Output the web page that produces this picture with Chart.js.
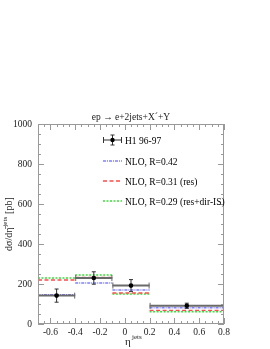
<!DOCTYPE html>
<html>
<head>
<meta charset="utf-8">
<script src="https://cdn.jsdelivr.net/npm/chart.js@4/dist/chart.umd.min.js"></script>
<style>
  html, body { margin: 0; padding: 0; background: #fff; }
  #wrap { width: 270px; height: 349px; }
</style>
</head>
<body>
<div id="wrap"><canvas id="chart" width="270" height="349"></canvas></div>
<script>
// Bins in eta^jets and cross sections (pb)
const binEdges = [-0.7, -0.4, -0.1, 0.2, 0.8]
const binCenters = [-0.55, -0.25, 0.05, 0.5]
const h1Values = [142, 230, 192, 91]
const h1Errors = [33, 31, 30, 13]
const nloR042 = [146, 205, 170, 81]
const nloR031 = [220, 233, 155, 68]
const nloR029 = [230, 245, 150, 61]

const xTicks = [-0.6, -0.4, -0.2, 0, 0.2, 0.4, 0.6, 0.8]
const yTicks = [0, 200, 400, 600, 800, 1000]

const serif = "'Liberation Serif', 'DejaVu Serif', serif"

// step histogram points, with gaps between bins
function stepPoints(values) {
  const pts = []
  values.forEach((v, i) => {
    if (i > 0) pts.push({ x: binEdges[i], y: null })
    pts.push({ x: binEdges[i], y: v })
    pts.push({ x: binEdges[i + 1], y: v })
  })
  return pts
}

const series = [
  { label: "NLO, R=0.42", data: nloR042, color: "#8080ff", dash: [3, 1, 1, 1] },
  { label: "NLO, R=0.31 (res)", data: nloR031, color: "#ff4a4a", dash: [4, 2.5] },
  { label: "NLO, R=0.29 (res+dir-IS)", data: nloR029, color: "#3cdc3c", dash: [2, 1.5] },
]

// H1 data: x error bars (bin width) + y error bars
const dataMarks = {
  id: "dataMarks",
  afterDatasetsDraw(chart) {
    const { ctx, scales } = chart
    const x = scales.x, y = scales.y
    ctx.save()
    h1Values.forEach((v, i) => {
      const x0 = x.getPixelForValue(binEdges[i])
      const x1 = x.getPixelForValue(binEdges[i + 1])
      const xc = x.getPixelForValue(binCenters[i])
      const yc = y.getPixelForValue(v)
      const yl = y.getPixelForValue(v - h1Errors[i])
      const yh = y.getPixelForValue(v + h1Errors[i])
      ctx.strokeStyle = "#6a6a6a"
      ctx.lineWidth = 2
      ctx.beginPath()
      ctx.moveTo(x0, yc); ctx.lineTo(x1, yc)
      ctx.stroke()
      ctx.lineWidth = 1
      ctx.beginPath()
      ctx.moveTo(x0 + 0.5, yc - 3); ctx.lineTo(x0 + 0.5, yc + 3)
      ctx.moveTo(x1 - 0.5, yc - 3); ctx.lineTo(x1 - 0.5, yc + 3)
      ctx.stroke()
      ctx.strokeStyle = "#333"
      ctx.beginPath()
      ctx.moveTo(xc, yl); ctx.lineTo(xc, yh)
      ctx.moveTo(xc - 2, yl); ctx.lineTo(xc + 2, yl)
      ctx.moveTo(xc - 2, yh); ctx.lineTo(xc + 2, yh)
      ctx.stroke()
      ctx.fillStyle = "#000"
      ctx.beginPath()
      ctx.arc(xc, yc, 2.3, 0, Math.PI * 2)
      ctx.fill()
    })
    ctx.restore()
  },
}

// Frame, inward ticks on all sides, labels, title, legend
const frame = {
  id: "frame",
  afterDraw(chart) {
    const { ctx, chartArea: a, scales } = chart
    const x = scales.x, y = scales.y
    ctx.save()
    ctx.strokeStyle = "#999"
    ctx.lineWidth = 1
    ctx.strokeRect(a.left + 0.5, a.top + 0.5, a.right - a.left - 1, a.bottom - a.top - 1)

    ctx.beginPath()
    for (let k = 0; k <= 30; k++) {
      const v = -0.7 + k * 0.05
      const px = Math.round(x.getPixelForValue(v)) + 0.5
      const r = Math.abs(Math.round(v * 100)) % 20
      const len = r === 0 ? 6 : 3
      ctx.moveTo(px, a.bottom); ctx.lineTo(px, a.bottom - len)
      ctx.moveTo(px, a.top); ctx.lineTo(px, a.top + len)
    }
    for (let v = 0; v <= 1000; v += 50) {
      const py = Math.round(y.getPixelForValue(v)) + 0.5
      const len = v % 200 === 0 ? 6 : 3
      ctx.moveTo(a.left, py); ctx.lineTo(a.left + len, py)
      ctx.moveTo(a.right, py); ctx.lineTo(a.right - len, py)
    }
    ctx.stroke()

    ctx.fillStyle = "#222"
    ctx.font = "9.5px " + serif
    ctx.textAlign = "right"
    ctx.textBaseline = "middle"
    yTicks.forEach((t) => ctx.fillText(String(t), a.left - 6, y.getPixelForValue(t)))
    ctx.textAlign = "center"
    ctx.textBaseline = "top"
    xTicks.forEach((t) => ctx.fillText(String(t), x.getPixelForValue(t), a.bottom + 4))

    // title
    ctx.font = "9.5px " + serif
    ctx.textBaseline = "alphabetic"
    ctx.fillText("ep \u2192 e+2jets+X\u00b4+Y", (a.left + a.right) / 2, a.top - 4)

    // x label
    ctx.textAlign = "left"
    ctx.font = "11px " + serif
    ctx.fillText("\u03b7", 125, 345)
    ctx.font = "7px " + serif
    ctx.fillText("jets", 132, 339)

    // y label (rotated)
    ctx.translate(12, 251)
    ctx.rotate(-Math.PI / 2)
    ctx.font = "10px " + serif
    ctx.fillText("d\u03c3/d\u03b7\u0304", 0, 0)
    let w = ctx.measureText("d\u03c3/d\u03b7\u0304").width
    ctx.font = "7px " + serif
    ctx.fillText("jets", w + 1, -5)
    w += ctx.measureText("jets").width + 4
    ctx.font = "10px " + serif
    ctx.fillText("[pb]", w, 0)
    ctx.setTransform(1, 0, 0, 1, 0, 0)

    // legend
    const lx0 = 103, lx1 = 122, tx = 125
    ctx.font = "9.5px " + serif
    ctx.textBaseline = "middle"
    ctx.fillStyle = "#000"
    let ly = 140
    ctx.strokeStyle = "#333"
    ctx.beginPath()
    ctx.moveTo(lx0, ly); ctx.lineTo(lx1, ly)
    ctx.moveTo(lx0 + 0.5, ly - 3); ctx.lineTo(lx0 + 0.5, ly + 3)
    ctx.moveTo(lx1 - 0.5, ly - 3); ctx.lineTo(lx1 - 0.5, ly + 3)
    ctx.moveTo(112.5, ly - 5); ctx.lineTo(112.5, ly + 5)
    ctx.moveTo(110.5, ly - 5); ctx.lineTo(114.5, ly - 5)
    ctx.moveTo(110.5, ly + 5); ctx.lineTo(114.5, ly + 5)
    ctx.stroke()
    ctx.beginPath(); ctx.arc(112.5, ly, 2.2, 0, Math.PI * 2); ctx.fill()
    ctx.fillText("H1 96-97", tx, ly + 1)
    series.forEach((s, i) => {
      ly = 161 + i * 20
      ctx.strokeStyle = s.color
      ctx.lineWidth = 1.7
      ctx.setLineDash(s.dash)
      ctx.beginPath(); ctx.moveTo(lx0, ly); ctx.lineTo(lx1, ly); ctx.stroke()
      ctx.setLineDash([])
      ctx.fillText(s.label, tx, ly + 1)
    })
    ctx.restore()
  },
}

new Chart(document.getElementById("chart"), {
  type: "line",
  data: {
    datasets: series.map((s) => ({
      label: s.label,
      data: stepPoints(s.data),
      borderColor: s.color,
      borderWidth: 1.4,
      borderDash: s.dash,
      pointRadius: 0,
      spanGaps: false,
      fill: false,
      tension: 0,
    })),
  },
  options: {
    responsive: false,
    animation: false,
    layout: { padding: { left: 38, right: 46, top: 124, bottom: 25 } },
    plugins: { legend: { display: false }, tooltip: { enabled: false }, title: { display: false } },
    scales: {
      x: { type: "linear", min: -0.7, max: 0.8, display: false },
      y: { type: "linear", min: 0, max: 1000, display: false },
    },
  },
  plugins: [dataMarks, frame],
})
</script>
</body>
</html>
